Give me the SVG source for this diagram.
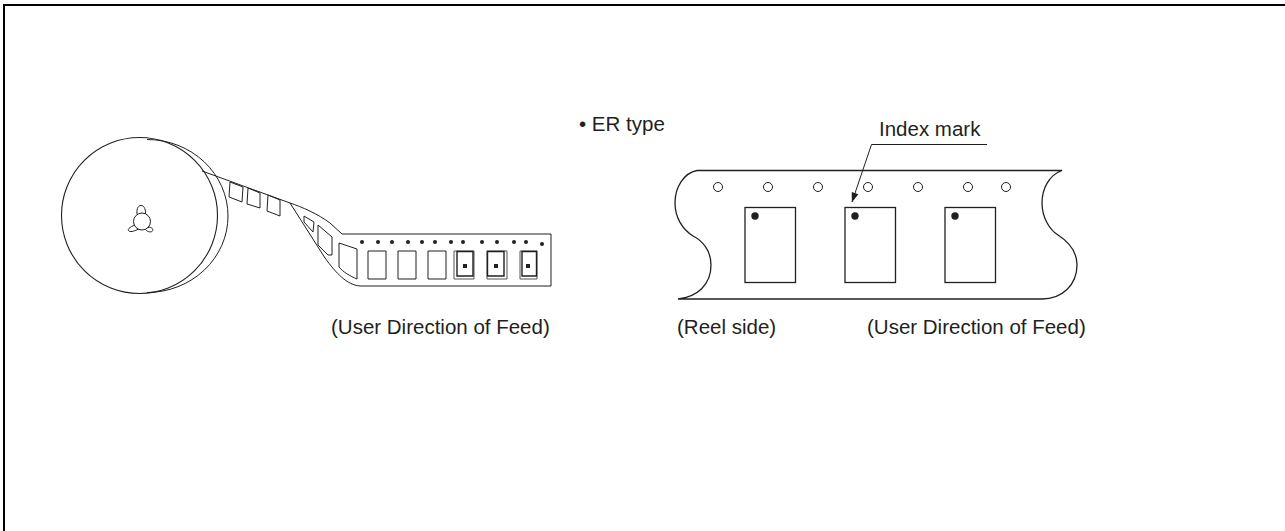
<svg xmlns="http://www.w3.org/2000/svg" width="1285" height="531" viewBox="0 0 1285 531">
<style>
text{font-family:"Liberation Sans",Arial,sans-serif;font-size:20.5px;fill:#231f20}
.l{fill:none;stroke:#231f20;stroke-width:1}
.m{fill:none;stroke:#231f20;stroke-width:1.3}
.k{fill:none;stroke:#231f20;stroke-width:1.4}
.g{fill:none;stroke:#555;stroke-width:1}
.d{fill:#231f20}
.h{fill:#fff;stroke:#231f20;stroke-width:1}
</style>
<defs><marker id="a" viewBox="0 0 10 10" refX="9.500" refY="5" markerWidth="10" markerHeight="10" orient="auto" markerUnits="userSpaceOnUse"><path d="M0 1.500L10 5L0 8.500Z" fill="#231f20"/></marker></defs>
<rect width="1285" height="531" fill="#fff"/>
<path d="M4 531V5H1285" fill="none" stroke="#000" stroke-width="2"/>
<g id="reel">
<path class="l" d="M147 139.500A81 76.500 0 0 1 228 216A81 76.500 0 0 1 147 292.500"/>
<circle class="l" cx="139.500" cy="215.500" r="78" style="stroke-width:1.100"/>
<circle class="l" cx="142" cy="221.500" r="8.500"/>
<path class="l" d="M137 214C136.500 208 138.500 205.500 141 205.500C143.500 205.500 145.800 208 145.500 214"/>
<path class="l" d="M135 225C130 227 127.500 229 128.500 230.500C129.500 232.500 134 231.500 138.500 229"/>
<path class="l" d="M148 227.500C151.500 226.500 153 229 152.800 230.500C152 232.500 148 232.500 145.500 229.500"/>
</g>
<g id="tape">
<path class="l" d="M202 171L290 203C302 207 318 214 330 223L342 234H551V286H360C347 285 336 273 325 258L290 203"/>
<path class="l" d="M230 182L229 197L242 202L243 187ZM248 188L247 204L260 208V193ZM268 195L267 211L280 216V200Z"/>
<path class="l" d="M304 216V222L313 232L314 222ZM318 225V245L328 255H332V237Z"/>
<path class="l" d="M339 243V267C343 272 350 276 357 279V249Z"/>
<path class="l" d="M368 251H386V279H368ZM398 251H416V279H398ZM428 251H446V279H428Z"/>
<path class="g" d="M454 251H474V279H454ZM487 251H507V279H487ZM520 251H537V279H520Z"/>
<path class="k" d="M457 251.500H473V276H457ZM487.500 251.500H504V276H487.500ZM522 251.500H536.500V276H522Z"/>
<g class="d">
<circle cx="362" cy="242" r="2"/><circle cx="378" cy="242" r="2"/><circle cx="392" cy="242" r="2"/><circle cx="408" cy="242" r="2"/><circle cx="422" cy="242" r="2"/><circle cx="435" cy="242" r="2"/><circle cx="451" cy="242" r="2"/><circle cx="463" cy="242" r="2"/><circle cx="482" cy="242" r="2"/><circle cx="497" cy="242" r="2"/><circle cx="514" cy="242" r="2"/><circle cx="526" cy="242" r="2"/><circle cx="542" cy="244" r="2"/>
<rect x="463" y="264" width="4" height="4"/><rect x="494" y="264" width="4" height="4"/><rect x="526" y="264" width="4" height="4"/>
</g>
</g>
<g id="carrier">
<path class="m" d="M697 170.500H1062C1049 175 1042 189 1042 203C1042 218 1050 230 1058 235C1069 242 1077 252 1077 265C1077 285 1062 299 1042 299H678C697 297 711 285 711 265C711 251 703 241 693 236C682 229 675 217 675 203C675 187 684 173 697 170.500Z"/>
<g class="h">
<circle cx="718" cy="187" r="4.500"/><circle cx="768" cy="187" r="4.500"/><circle cx="818" cy="187" r="4.500"/><circle cx="868" cy="187" r="4.500"/><circle cx="918" cy="187" r="4.500"/><circle cx="968" cy="187" r="4.500"/><circle cx="1006" cy="187" r="4.500"/>
</g>
<g class="m"><rect x="745" y="207.500" width="50.500" height="75"/><rect x="845" y="207.500" width="50.500" height="75"/><rect x="945" y="207.500" width="50.500" height="75"/></g>
<g class="d"><circle cx="755" cy="216" r="3.700"/><circle cx="855" cy="216" r="3.700"/><circle cx="955" cy="216" r="3.700"/></g>
</g>
<g id="connectors">
<path class="l" d="M987 144.500H871.500L852 202" marker-end="url(#a)"/>
</g>
<g id="labels">
<text x="331" y="334">(User Direction of Feed)</text>
<text x="579" y="131">• ER type</text>
<text x="879" y="136">Index mark</text>
<text x="677" y="334">(Reel side)</text>
<text x="867" y="334">(User Direction of Feed)</text>
</g>
</svg>
